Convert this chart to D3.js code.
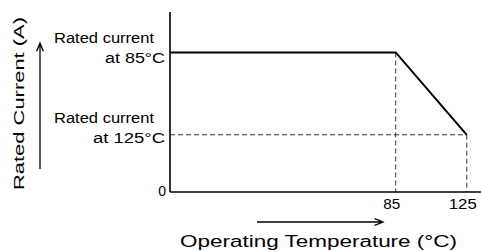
<!DOCTYPE html>
<html><head><meta charset="utf-8">
<script src="https://cdn.jsdelivr.net/npm/d3@7"></script>
<style>html,body{margin:0;padding:0;background:#fff;}text{font-family:"Liberation Sans",Arial,sans-serif;fill:#000;}</style>
</head><body>
<svg id="c" width="482" height="251"></svg>
<script>
// Data
const temps = [-42, 85, 125];          // operating temperature (°C)
const current = [1, 1, 0.41];          // relative rated current
const xDomain = [-42, 133];
const yDomain = [0, 1.29];
const xTicks = [85, 125];
const xTickLabels = ["85", "125"];
const yTicks = [0];
const yTickLabels = ["0"];
const ratedLevels = [1, 0.41];
const ratedLine1 = ["Rated current", "Rated current"];
const ratedLine2 = ["at 85°C", "at 125°C"];
const xTitle = "Operating Temperature (°C)";
const yTitle = "Rated Current (A)";

const svg = d3.select("#c");
const x = d3.scaleLinear().domain(xDomain).range([170, 481]);
const y = d3.scaleLinear().domain(yDomain).range([192, 12]);

// guide dashed lines
const dash = "5,3";
svg.append("line").attr("x1", x(85)).attr("x2", x(85)).attr("y1", y(1)).attr("y2", y(0))
  .attr("stroke", "#333").attr("stroke-dasharray", dash).attr("stroke-width", 1);
svg.append("line").attr("x1", x(125)).attr("x2", x(125)).attr("y1", y(current[2])).attr("y2", y(0))
  .attr("stroke", "#333").attr("stroke-dasharray", dash).attr("stroke-width", 1);
svg.append("line").attr("x1", x(xDomain[0])).attr("x2", x(125)).attr("y1", y(current[2])).attr("y2", y(current[2]))
  .attr("stroke", "#333").attr("stroke-dasharray", dash).attr("stroke-width", 1);

// axes lines
svg.append("line").attr("x1", x(xDomain[0])).attr("x2", x(xDomain[0])).attr("y1", y(yDomain[1])).attr("y2", y(0))
  .attr("stroke", "#000").attr("stroke-width", 1.6);
svg.append("line").attr("x1", x(xDomain[0])).attr("x2", x(xDomain[1])).attr("y1", y(0)).attr("y2", y(0))
  .attr("stroke", "#000").attr("stroke-width", 1.6);

// data line
const pts = temps.map((t, i) => [t, current[i]]);
svg.append("path").datum(pts)
  .attr("d", d3.line().x(d => x(d[0])).y(d => y(d[1])))
  .attr("fill", "none").attr("stroke", "#000").attr("stroke-width", 2);

// x tick labels
const xtl = [17, 28];
xTicks.forEach((t, i) => {
  svg.append("text").attr("x", x(t) - 4).attr("y", 209)
    .attr("text-anchor", "middle").attr("font-size", 14)
    .attr("textLength", xtl[i]).attr("lengthAdjust", "spacingAndGlyphs")
    .text(xTickLabels[i]);
});
// y tick label
yTicks.forEach((t, i) => {
  svg.append("text").attr("x", 166).attr("y", y(t) + 4).attr("text-anchor", "end")
    .attr("font-size", 14).text(yTickLabels[i]);
});

// rated labels
const l1w = [100, 100], l2w = [60, 72];
const off1 = [-9, -12], off2 = [10.5, 8];
ratedLevels.forEach((v, i) => {
  svg.append("text").attr("x", 54).attr("y", y(v) + off1[i]).attr("font-size", 14)
    .attr("textLength", l1w[i]).attr("lengthAdjust", "spacingAndGlyphs").text(ratedLine1[i]);
  svg.append("text").attr("x", 165).attr("y", y(v) + off2[i]).attr("font-size", 14)
    .attr("text-anchor", "end")
    .attr("textLength", l2w[i]).attr("lengthAdjust", "spacingAndGlyphs").text(ratedLine2[i]);
});

// titles
svg.append("text").attr("x", 180).attr("y", 246.5).attr("font-size", 16)
  .attr("textLength", 277).attr("lengthAdjust", "spacingAndGlyphs").text(xTitle);
svg.append("text").attr("transform", "translate(24,190) rotate(-90)").attr("font-size", 15.5)
  .attr("textLength", 173).attr("lengthAdjust", "spacingAndGlyphs").text(yTitle);

// arrows
function arrow(x1, y1, x2, y2) {
  const ang = Math.atan2(y2 - y1, x2 - x1), L = 9, a = 0.38;
  const p = d3.path();
  p.moveTo(x1, y1); p.lineTo(x2, y2);
  p.moveTo(x2 - L * Math.cos(ang - a), y2 - L * Math.sin(ang - a));
  p.lineTo(x2, y2);
  p.lineTo(x2 - L * Math.cos(ang + a), y2 - L * Math.sin(ang + a));
  svg.append("path").attr("d", p.toString()).attr("fill", "none").attr("stroke", "#000").attr("stroke-width", 1.3);
}
arrow(257, 222, 383, 222);
arrow(40, 169, 40, 43);
</script>
</body></html>
